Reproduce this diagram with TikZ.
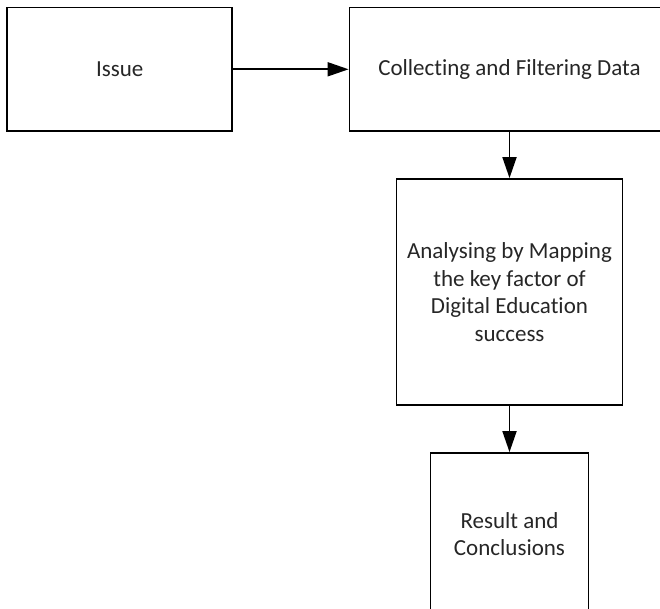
\documentclass[tikz,border=0pt]{standalone}
\usepackage{fontspec}
\setmainfont{Carlito}[Ligatures=NoCommon]
\usetikzlibrary{arrows.meta}

\begin{document}
\begin{tikzpicture}[x=1pt, y=-1pt,
    box/.style={draw, line width=1.8pt, align=center, inner sep=0pt,
        font=\fontsize{23}{27.5}\selectfont, text=black!85},
    flow/.style={line width=1.8pt, -{Triangle[length=21pt, width=14pt]}}]
\useasboundingbox (0, 0) rectangle (660, 609);
\clip (0, 0) rectangle (660, 609);

\node[box, minimum width=224.7pt, minimum height=123.7pt] (issue) at (119.7, 69.3) {Issue};
\node[box, minimum width=320pt, minimum height=123.7pt] (collect) at (509.5, 69.3)
    {Collecting and Filtering Data};
\node[box, minimum width=226pt, minimum height=226pt] (analyse) at (509.5, 292)
    {Analysing by Mapping\\the key factor of\\Digital Education\\success};
\node[box, minimum width=158pt, minimum height=162pt] (result) at (509.5, 534)
    {Result and\\Conclusions};

\draw[flow] (issue) -- (collect);
\draw[flow] (collect) -- (analyse);
\draw[flow] (analyse) -- (result);

\end{tikzpicture}
\end{document}
